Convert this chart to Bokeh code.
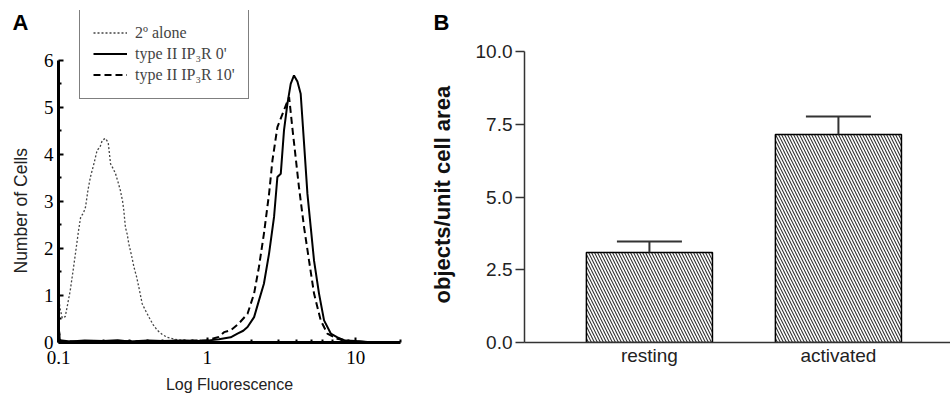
import math
from bokeh.plotting import figure
from bokeh.models import (Legend, LegendItem, FixedTicker, Title,
                          CustomJSTickFormatter, NumeralTickFormatter)
from bokeh.layouts import row
from bokeh.embed import file_html
from bokeh.resources import INLINE

# ---------------- Panel A data (flow cytometry histograms) ----------------
alone_x = [0.1, 0.102, 0.106, 0.111, 0.115, 0.120, 0.125, 0.130, 0.136, 0.141,
           0.147, 0.152, 0.158, 0.164, 0.173, 0.182, 0.190, 0.197, 0.207, 0.216,
           0.224, 0.233, 0.242, 0.251, 0.261, 0.270, 0.275, 0.282, 0.290, 0.297,
           0.310, 0.322, 0.335, 0.347, 0.366, 0.385, 0.406, 0.433, 0.462, 0.50,
           0.539, 0.60, 0.70, 0.80, 0.90, 1.0, 1.1]
alone_y = [1.15, 0.75, 0.52, 0.55, 0.80, 1.11, 1.50, 1.89, 2.35, 2.67,
           2.75, 2.88, 3.25, 3.52, 3.80, 4.09, 4.15, 4.30, 4.34, 4.25,
           3.80, 3.70, 3.59, 3.42, 3.23, 3.00, 2.81, 2.45, 2.30, 2.10,
           1.85, 1.60, 1.40, 1.18, 0.82, 0.68, 0.54, 0.38, 0.26, 0.17,
           0.11, 0.07, 0.04, 0.03, 0.02, 0.02, 0.01]

t0_x = [0.100, 0.102, 0.12, 0.15, 0.2, 0.25, 0.3, 0.4, 0.5, 0.7, 0.9, 1.0, 1.2,
        1.44, 1.60, 1.75, 1.87, 2.07, 2.23, 2.41, 2.61, 2.82, 2.97, 3.13, 3.29,
        3.47, 3.65, 3.84, 4.05, 4.26, 4.49, 4.73, 4.98, 5.24, 5.66, 6.12, 6.79,
        7.53, 7.9, 8.5, 10.0, 12.0]
t0_y = [0.40, 0.05, 0.02, 0.04, 0.03, 0.05, 0.02, 0.04, 0.03, 0.04, 0.03, 0.04, 0.07,
        0.11, 0.19, 0.25, 0.33, 0.54, 0.89, 1.25, 1.89, 2.67, 3.52, 3.59, 4.51,
        5.08, 5.50, 5.68, 5.55, 5.29, 4.23, 3.16, 2.45, 1.74, 1.04, 0.47, 0.19,
        0.11, 0.08, 0.04, 0.03, 0.01]

t10_x = [0.100, 0.103, 0.15, 0.3, 0.6, 1.0, 1.2, 1.30, 1.44, 1.63, 1.87, 2.07,
         2.23, 2.41, 2.61, 2.75, 2.97, 3.29, 3.56, 3.74, 3.94, 4.15, 4.49, 4.85,
         5.24, 5.81, 6.44, 7.5, 9.0, 12.0]
t10_y = [0.30, 0.03, 0.02, 0.03, 0.02, 0.05, 0.12, 0.22, 0.26, 0.40, 0.61, 1.04,
         1.60, 2.31, 3.16, 3.87, 4.58, 4.94, 5.22, 4.58, 3.94, 3.30, 2.45, 1.74,
         1.04, 0.47, 0.19, 0.08, 0.03, 0.01]

a_major_x = [0.1, 1, 10]
a_minor_x = [0.2, 0.3, 0.4, 0.5, 0.6, 0.7, 0.8, 0.9, 2, 3, 4, 5, 6, 7, 8, 9, 20]
a_major_y = [0, 1, 2, 3, 4, 5, 6]
a_minor_y = [0.5, 1.5, 2.5, 3.5, 4.5, 5.5]

legend_labels = ["2º alone", "type II IP₃R 0'", "type II IP₃R 10'"]

# ---------------- Panel B data (bar chart) ----------------
b_categories = ["resting", "activated"]
b_positions = [1, 2]
b_means = [3.09, 7.15]
b_errors = [0.38, 0.62]
b_ticks = [0.0, 2.5, 5.0, 7.5, 10.0]

SANS = "Liberation Sans"
SERIF = "Liberation Serif"

# ================= Panel A =================
pa = figure(width=418, height=398, x_axis_type="log", x_range=(0.1, 20),
            y_range=(0, 7.06), output_backend="svg", toolbar_location=None,
            min_border_left=58, min_border_right=18, min_border_top=10,
            min_border_bottom=56, title=None)
pa.outline_line_color = None
pa.grid.visible = False

r_alone = pa.line(alone_x, alone_y, line_color="#444444", line_width=1.3,
                  line_dash="2 2")
r_t0 = pa.line(t0_x, t0_y, line_color="black", line_width=2)
r_t10 = pa.line(t10_x, t10_y, line_color="black", line_width=2,
                line_dash="7 4")

for ax in (pa.xaxis[0], pa.yaxis[0]):
    ax.axis_line_width = 3
    ax.axis_line_color = "black"
    ax.major_tick_line_width = 2
    ax.minor_tick_line_width = 2
    ax.major_tick_line_color = "black"
    ax.minor_tick_line_color = "black"
    ax.major_tick_out = 0
    ax.minor_tick_out = 0
    ax.major_tick_in = 5
    ax.minor_tick_in = 3
    ax.major_label_text_font = SERIF
    ax.major_label_text_font_size = "19px"
    ax.major_label_text_color = "black"
    ax.axis_label_text_font = SANS
    ax.axis_label_text_font_size = "16px"
    ax.axis_label_text_font_style = "normal"
    ax.axis_label_text_color = "#222222"

pa.xaxis.ticker = FixedTicker(ticks=a_major_x, minor_ticks=a_minor_x)
pa.xaxis.formatter = CustomJSTickFormatter(
    code="return tick < 1 ? tick.toFixed(1) : tick.toFixed(0);")
pa.xaxis.major_label_standoff = 8
pa.xaxis.axis_label = "Log Fluorescence"
pa.xaxis.axis_label_standoff = 9

pa.yaxis.ticker = FixedTicker(ticks=a_major_y, minor_ticks=a_minor_y)
pa.yaxis.bounds = (0, 6)
pa.yaxis.major_label_standoff = 5
# invisible spacer label: pushes the y title a few pixels outward
pa.yaxis.axis_label = " "
pa.yaxis.axis_label_text_font_size = "1px"
pa.yaxis.axis_label_standoff = 2

legend = Legend(items=[LegendItem(label=legend_labels[0], renderers=[r_alone]),
                       LegendItem(label=legend_labels[1], renderers=[r_t0]),
                       LegendItem(label=legend_labels[2], renderers=[r_t10])],
                location=(21, 243), padding=13, spacing=0, margin=0,
                glyph_width=34, glyph_height=21, label_height=21,
                label_standoff=8, label_text_font=SERIF,
                label_text_font_size="16px", border_line_color="black",
                border_line_width=1, background_fill_color="white",
                background_fill_alpha=1)
pa.add_layout(legend, "center")

# y-axis title of panel A (placed lower, like the original)
pa.add_layout(Title(text="Number of Cells", align="left", offset=69,
                    vertical_align="top", standoff=4,
                    text_font=SANS, text_font_size="17.5px",
                    text_font_style="normal", text_color="#222222"), "left")
# panel letter "A"
pa.add_layout(Title(text="A", align="left", offset=-46, standoff=-48,
                    text_font=SANS, text_font_size="22px",
                    text_font_style="bold", text_color="black"), "above")

# ================= Panel B =================
pb = figure(width=532, height=398, x_range=(0.339, 2.593), y_range=(0, 11.41),
            output_backend="svg", toolbar_location=None,
            min_border_left=106, min_border_right=0, min_border_top=10,
            min_border_bottom=56, title=None)
pb.outline_line_color = None
pb.grid.visible = False

pb.vbar(x=b_positions, top=b_means, width=0.667, bottom=0,
        fill_color="white", line_color="black", line_width=1.5,
        hatch_pattern="left_diagonal_line", hatch_scale=6,
        hatch_color="#333333", hatch_weight=1.1)

tops = [m + e for m, e in zip(b_means, b_errors)]
cap = 0.172
pb.segment(x0=b_positions, y0=b_means, x1=b_positions, y1=tops,
           line_color="#333333", line_width=2)
pb.segment(x0=[p - cap for p in b_positions], y0=tops,
           x1=[p + cap for p in b_positions], y1=tops,
           line_color="#333333", line_width=2)

for ax in (pb.xaxis[0], pb.yaxis[0]):
    ax.axis_line_width = 1.5
    ax.axis_line_color = "#333333"
    ax.major_tick_line_color = "#333333"
    ax.major_tick_line_width = 1.5
    ax.minor_tick_line_color = None
    ax.major_label_text_font = SANS
    ax.major_label_text_font_size = "19px"
    ax.major_label_text_color = "#222222"

pb.yaxis.ticker = FixedTicker(ticks=b_ticks)
pb.yaxis.formatter = NumeralTickFormatter(format="0.0")
pb.yaxis.bounds = (0, 10)
pb.yaxis.major_tick_out = 9
pb.yaxis.major_tick_in = 0
pb.yaxis.major_label_standoff = 3
# invisible spacer label: pushes the y title a few pixels outward
pb.yaxis.axis_label = " "
pb.yaxis.axis_label_text_font_size = "1px"
pb.yaxis.axis_label_standoff = 8

pb.xaxis.ticker = FixedTicker(ticks=b_positions)
pb.xaxis.major_label_overrides = {p: c for p, c in zip(b_positions, b_categories)}
pb.xaxis.major_tick_line_color = None
pb.xaxis.major_tick_out = 0
pb.xaxis.major_tick_in = 0
pb.xaxis.major_label_standoff = 2

# y-axis title of panel B (placed higher, like the original)
pb.add_layout(Title(text="objects/unit cell area", align="left", offset=39,
                    vertical_align="top", standoff=7,
                    text_font=SANS, text_font_size="22px",
                    text_font_style="bold", text_color="#111111"), "left")
# panel letter "B"
pb.add_layout(Title(text="B", align="left", offset=-91, standoff=-48,
                    text_font=SANS, text_font_size="22px",
                    text_font_style="bold", text_color="black"), "above")

layout = row(pa, pb)
open("out.html", "w").write(file_html(layout, INLINE))
